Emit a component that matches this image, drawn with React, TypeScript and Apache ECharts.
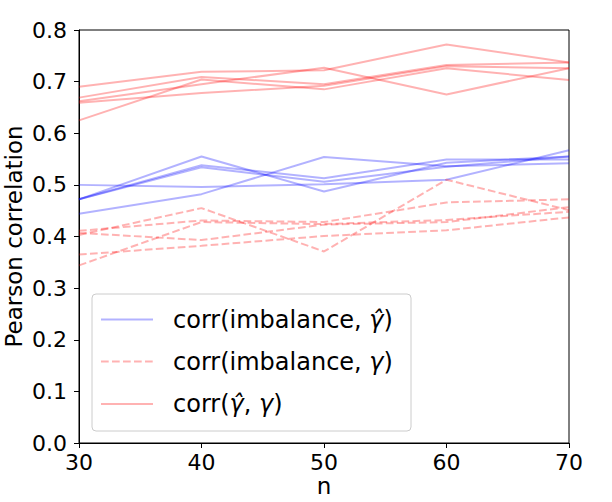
import React, { useEffect, useRef } from "react";
import * as echarts from "echarts";

const nValues = [30, 40, 50, 60, 70];
const yTicks = [0, 0.1, 0.2, 0.3, 0.4, 0.5, 0.6, 0.7, 0.8];

// corr(imbalance, gamma_hat) — blue solid, one run per row
const corrImbGammaHat = [
  [0.5, 0.496, 0.501, 0.51, 0.567],
  [0.444, 0.482, 0.554, 0.536, 0.542],
  [0.472, 0.555, 0.487, 0.543, 0.555],
  [0.472, 0.538, 0.513, 0.549, 0.549],
  [0.472, 0.534, 0.506, 0.535, 0.555],
];

// corr(imbalance, gamma) — red dashed
const corrImbGamma = [
  [0.403, 0.455, 0.371, 0.51, 0.451],
  [0.411, 0.431, 0.428, 0.466, 0.472],
  [0.407, 0.393, 0.423, 0.428, 0.457],
  [0.365, 0.382, 0.401, 0.412, 0.437],
  [0.344, 0.428, 0.424, 0.432, 0.448],
];

// corr(gamma_hat, gamma) — red solid
const corrGammaHatGamma = [
  [0.69, 0.719, 0.722, 0.772, 0.737],
  [0.669, 0.709, 0.695, 0.732, 0.737],
  [0.659, 0.678, 0.692, 0.73, 0.726],
  [0.625, 0.704, 0.685, 0.726, 0.703],
  [0.662, 0.695, 0.727, 0.675, 0.726],
];

const legendLabels = [
  "corr(imbalance, {g|γ̂})",
  "corr(imbalance, {g|γ})",
  "corr({g|γ̂}, {g|γ})",
];

const BLUE = "rgba(0,0,255,0.3)";
const RED = "rgba(255,0,0,0.3)";
const DASH = [7.7, 3.3];
const FONT = "DejaVu Sans";

export default function App() {
  const ref = useRef<HTMLDivElement>(null);
  useEffect(() => {
    if (!ref.current) return;
    const chart = echarts.init(ref.current, undefined, { renderer: "svg" });

    const mk = (rows: number[][], color: string, dashed: boolean) =>
      rows.map((row) => ({
        type: "line",
        data: row.map((v, i) => [nValues[i], v]),
        symbol: "none",
        silent: true,
        lineStyle: { color, width: 2, type: dashed ? DASH : "solid" },
      }));

    const series = [
      ...mk(corrImbGammaHat, BLUE, false),
      ...mk(corrImbGamma, RED, true),
      ...mk(corrGammaHatGamma, RED, false),
    ];

    const legendColors = [BLUE, RED, RED];
    const legendDashed = [false, true, false];
    const legendBox = { x: 92, y: 294, w: 319, h: 137 };
    const rowY = [319.5, 361.5, 404];
    const legendChildren: any[] = [
      {
        type: "rect",
        shape: { x: legendBox.x, y: legendBox.y, width: legendBox.w, height: legendBox.h, r: 4 },
        style: { fill: "rgba(255,255,255,0.8)", stroke: "#cccccc", lineWidth: 1 },
      },
    ];
    legendLabels.forEach((lab, i) => {
      legendChildren.push({
        type: "line",
        shape: { x1: 101, y1: rowY[i], x2: 153, y2: rowY[i] },
        style: {
          stroke: legendColors[i],
          lineWidth: 2,
          lineDash: legendDashed[i] ? DASH : null,
        },
      });
      legendChildren.push({
        type: "text",
        x: 173,
        y: rowY[i],
        style: {
          text: lab,
          fill: "#000",
          fontSize: 24,
          fontFamily: FONT,
          verticalAlign: "middle",
          align: "left",
          rich: {
            g: { fontSize: 24, fontFamily: FONT, fontStyle: "italic", fill: "#000" },
          },
        },
      });
    });

    chart.setOption({
      animation: false,
      backgroundColor: "#fff",
      grid: {
        left: 79,
        top: 30,
        width: 490,
        height: 413,
        show: true,
        borderColor: "#000",
        borderWidth: 1,
        backgroundColor: "transparent",
        containLabel: false,
        outerBoundsMode: "none",
      },
      xAxis: {
        type: "value",
        min: 30,
        max: 70,
        interval: 10,
        name: "n",
        nameLocation: "middle",
        nameGap: 31,
        nameMoveOverlap: false,
        nameTextStyle: { fontSize: 23, fontFamily: FONT, color: "#000" },
        axisLine: { show: true, lineStyle: { color: "#000", width: 1 } },
        axisTick: { show: true, inside: false, length: 5, lineStyle: { color: "#000" } },
        axisLabel: { fontSize: 22, fontFamily: FONT, color: "#000", margin: 8 },
        splitLine: { show: false },
      },
      yAxis: {
        type: "value",
        min: 0,
        max: 0.8,
        interval: 0.1,
        name: "Pearson correlation",
        nameLocation: "middle",
        nameGap: 54,
        nameMoveOverlap: false,
        nameTextStyle: { fontSize: 23, fontFamily: FONT, color: "#000" },
        axisLine: { show: true, lineStyle: { color: "#000", width: 1 } },
        axisTick: { show: true, inside: false, length: 5, lineStyle: { color: "#000" } },
        axisLabel: {
          fontSize: 22,
          fontFamily: FONT,
          color: "#000",
          margin: 12,
          formatter: (v: number) => {
            const t = yTicks.find((x) => Math.abs(x - v) < 1e-9);
            return (t !== undefined ? t : v).toFixed(1);
          },
        },
        splitLine: { show: false },
      },
      series,
      graphic: [{ type: "group", children: legendChildren, z: 100 }],
    });
    return () => chart.dispose();
  }, []);
  return (
    <div
      ref={ref}
      style={{ position: "absolute", left: 0, top: 0, width: 612, height: 502 }}
    />
  );
}
